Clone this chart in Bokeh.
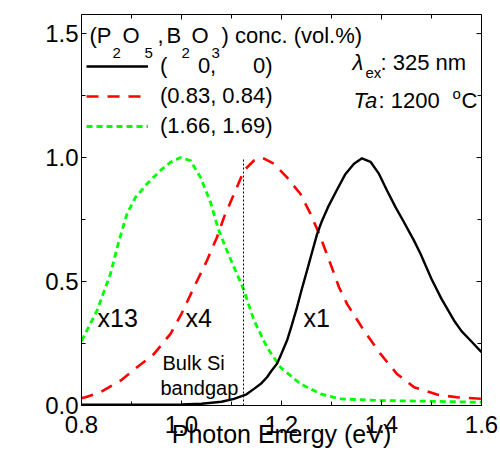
import math
from bokeh.plotting import figure
from bokeh.models import (Label, Legend, LegendItem, Range1d, FixedTicker,
                          NumeralTickFormatter)
from bokeh.embed import file_html
from bokeh.resources import INLINE

# ---------------- data ----------------
e_undoped = [0.80, 0.90, 1.00, 1.04, 1.08, 1.105, 1.13, 1.145, 1.16, 1.171, 1.18,
             1.191, 1.20, 1.211, 1.22, 1.231, 1.24, 1.251, 1.26, 1.271, 1.28,
             1.293, 1.311, 1.328, 1.345, 1.361, 1.378, 1.395, 1.411, 1.428,
             1.445, 1.465, 1.478, 1.50, 1.52, 1.545, 1.56, 1.578, 1.60]
i_undoped = [0.003, 0.003, 0.004, 0.007, 0.015, 0.027, 0.045, 0.067, 0.09, 0.114, 0.14,
             0.168, 0.21, 0.262, 0.32, 0.396, 0.465, 0.544, 0.61, 0.69, 0.74,
             0.80, 0.87, 0.934, 0.975, 0.997, 0.983, 0.934, 0.867, 0.80,
             0.739, 0.665, 0.612, 0.51, 0.43, 0.343, 0.30, 0.262, 0.215]

e_mid = [0.80, 0.808, 0.838, 0.878, 0.911, 0.945, 0.978, 1.00, 1.025, 1.051, 1.071,
         1.085, 1.105, 1.125, 1.145, 1.161, 1.185, 1.211, 1.238, 1.258, 1.278,
         1.298, 1.315, 1.331, 1.365, 1.398, 1.431, 1.465, 1.511, 1.551, 1.60]
i_mid = [0.03, 0.033, 0.054, 0.10, 0.154, 0.208, 0.289, 0.37, 0.477, 0.585, 0.679,
         0.759, 0.853, 0.948, 0.988, 1.0, 0.975, 0.92, 0.853, 0.773, 0.679,
         0.571, 0.477, 0.41, 0.302, 0.208, 0.127, 0.074, 0.044, 0.033, 0.027]

e_high = [0.80, 0.831, 0.858, 0.875, 0.891, 0.908, 0.931, 0.958, 0.978, 0.998, 1.018,
          1.038, 1.058, 1.073, 1.088, 1.105, 1.125, 1.145, 1.171, 1.198, 1.238,
          1.278, 1.315, 1.40, 1.50, 1.60]
i_high = [0.26, 0.383, 0.531, 0.665, 0.773, 0.84, 0.894, 0.948, 0.981, 1.0, 0.988,
          0.92, 0.82, 0.715, 0.638, 0.558, 0.464, 0.343, 0.235, 0.154, 0.087,
          0.047, 0.027, 0.02, 0.017, 0.013]

NB = "\u00a0"
series_labels = ["(" + NB * 5 + "0," + NB * 6 + "0)",
                 "(0.83, 0.84)", "(1.66, 1.69)"]
scale_labels = ["x13", "x4", "x1"]
scale_label_x = [0.832, 1.008, 1.244]
scale_label_y = 0.351
bandgap_ev = 1.124
bandgap_top = 1.0

x_ticks = [0.8, 1.0, 1.2, 1.4, 1.6]
x_minor = [0.9, 1.1, 1.3, 1.5]
y_ticks = [0.0, 0.5, 1.0, 1.5]
y_minor = [0.25, 0.75, 1.25]

X0, X1 = 0.8, 1.6
Y0, Y1 = 0.0, 1.577
FRAME_W, FRAME_H = 400, 391
FL, FT = 81, 14          # frame left / top in page pixels
PX_X = FRAME_W / (X1 - X0)
PX_Y = FRAME_H / (Y1 - Y0)

FONT = "Liberation Sans"

p = figure(width=500, height=454, output_backend="svg", toolbar_location=None,
           x_range=Range1d(X0, X1), y_range=Range1d(Y0, Y1),
           min_border_left=FL, min_border_right=500 - FL - FRAME_W,
           min_border_top=FT, min_border_bottom=454 - FT - FRAME_H)
p.grid.visible = False
p.outline_line_color = "black"
p.outline_line_width = 1
p.background_fill_color = "white"
p.border_fill_color = "white"


def style(ax, ticks, minor, standoff):
    ax.ticker = FixedTicker(ticks=ticks, minor_ticks=minor)
    ax.formatter = NumeralTickFormatter(format="0.0")
    ax.axis_line_color = "black"
    ax.axis_line_width = 1
    ax.major_tick_in = 5
    ax.major_tick_out = 0
    ax.minor_tick_in = 4
    ax.minor_tick_out = 0
    ax.major_tick_line_color = "black"
    ax.minor_tick_line_color = "black"
    ax.major_label_text_font = FONT
    ax.major_label_text_color = "black"
    ax.major_label_text_font_size = "24px"
    ax.major_label_standoff = standoff


style(p.xaxis[0], x_ticks, x_minor, 10)
style(p.yaxis[0], y_ticks, y_minor, 3)
xa = p.xaxis[0]
xa.axis_label = "Photon Energy (eV)"
xa.axis_label_text_font = FONT
xa.axis_label_text_font_size = "25px"
xa.axis_label_text_font_style = "normal"
xa.axis_label_text_color = "black"
xa.axis_label_standoff = -16

# mirrored inward ticks on the top and right frame edges
top_x = x_ticks + x_minor
top_len = [5] * len(x_ticks) + [4] * len(x_minor)
p.segment(x0=top_x, y0=[Y1] * len(top_x), x1=top_x,
          y1=[Y1 - L / PX_Y for L in top_len], line_color="black", line_width=1)
right_y = y_ticks + y_minor
right_len = [5] * len(y_ticks) + [4] * len(y_minor)
p.segment(x0=[X1] * len(right_y), y0=right_y,
          x1=[X1 - L / PX_X for L in right_len], y1=right_y,
          line_color="black", line_width=1)

r_high = p.line(e_high, i_high, line_color="#00ff00", line_width=2.8, line_dash="6 4")
r_mid = p.line(e_mid, i_mid, line_color="#ff0000", line_width=2.6, line_dash="12 9")
r_undoped = p.line(e_undoped, i_undoped, line_color="black", line_width=2.4)

p.segment(x0=[bandgap_ev], y0=[0.0], x1=[bandgap_ev], y1=[bandgap_top],
          line_color="black", line_width=1, line_dash="2 2")

legend = Legend(items=[LegendItem(label=series_labels[0], renderers=[r_undoped]),
                       LegendItem(label=series_labels[1], renderers=[r_mid]),
                       LegendItem(label=series_labels[2], renderers=[r_high])],
                location=(5, 266),
                label_text_font=FONT, label_text_font_size="22px",
                label_text_color="black",
                glyph_width=62, glyph_height=20, label_height=20,
                label_standoff=12, spacing=4, padding=5, margin=0,
                border_line_color=None, background_fill_alpha=0)
p.add_layout(legend)


def page_to_x(px):
    return X0 + (px - FL) / PX_X


def page_to_y(py):
    return Y1 - (py - FT) / PX_Y


# legend heading built from pieces (subscripts)
head_main_y = page_to_y(35)
head_sub_y = page_to_y(52)
heading = [("(P", 89, False), ("2", 112, True), ("O", 122, False), ("5", 144, True),
           (",", 157, False), ("B", 166, False), ("2", 181, True), ("O", 191, False),
           ("3", 211, True), (") conc. (vol.%)", 221, False)]
for txt, left, sub in heading:
    p.add_layout(Label(x=X0, y=head_sub_y if sub else head_main_y,
                       x_offset=left - FL, text=txt, text_font=FONT,
                       text_font_size="15px" if sub else "22px",
                       text_align="left", text_baseline="middle",
                       text_color="black"))

for txt, xv in zip(scale_labels, scale_label_x):
    p.add_layout(Label(x=xv, y=scale_label_y, text=txt, text_font=FONT,
                       text_font_size="25px", text_align="left",
                       text_baseline="middle", text_color="black"))

p.add_layout(Label(x=0.962, y=0.173, text="Bulk Si", text_font=FONT,
                   text_font_size="20px", text_align="left",
                   text_baseline="middle", text_color="black"))
p.add_layout(Label(x=0.958, y=0.069, text="bandgap", text_font=FONT,
                   text_font_size="20px", text_align="left",
                   text_baseline="middle", text_color="black"))

# excitation / anneal annotations (anchor at page x 353)
ax0 = page_to_x(353)
y1 = page_to_y(62)
y2 = page_to_y(100)
pieces = [
    ("\u03bb", y1, -1, 0, "22px", "italic"),
    ("ex", y1, 12, -10, "15px", "normal"),
    (": 325 nm", y1, 27, 0, "22px", "normal"),
    ("Ta", y2, 0, 0, "22px", "italic"),
    (": 1200", y2, 25, 0, "22px", "normal"),
    ("o", y2, 99, 7, "15px", "normal"),
    ("C", y2, 108, 0, "22px", "normal"),
]
for txt, yv, dx, dy, fs, st in pieces:
    p.add_layout(Label(x=ax0, y=yv, x_offset=dx, y_offset=dy, text=txt,
                       text_font=FONT, text_font_size=fs, text_font_style=st,
                       text_align="left", text_baseline="middle",
                       text_color="black"))

# y axis title
p.add_layout(Label(x=page_to_x(27), y=page_to_y(242),
                   text="PL Intensity (normalized)", angle=math.pi / 2,
                   text_font=FONT, text_font_size="25px", text_align="center",
                   text_baseline="middle", text_color="black"))

open("out.html", "w").write(file_html(p, INLINE))
